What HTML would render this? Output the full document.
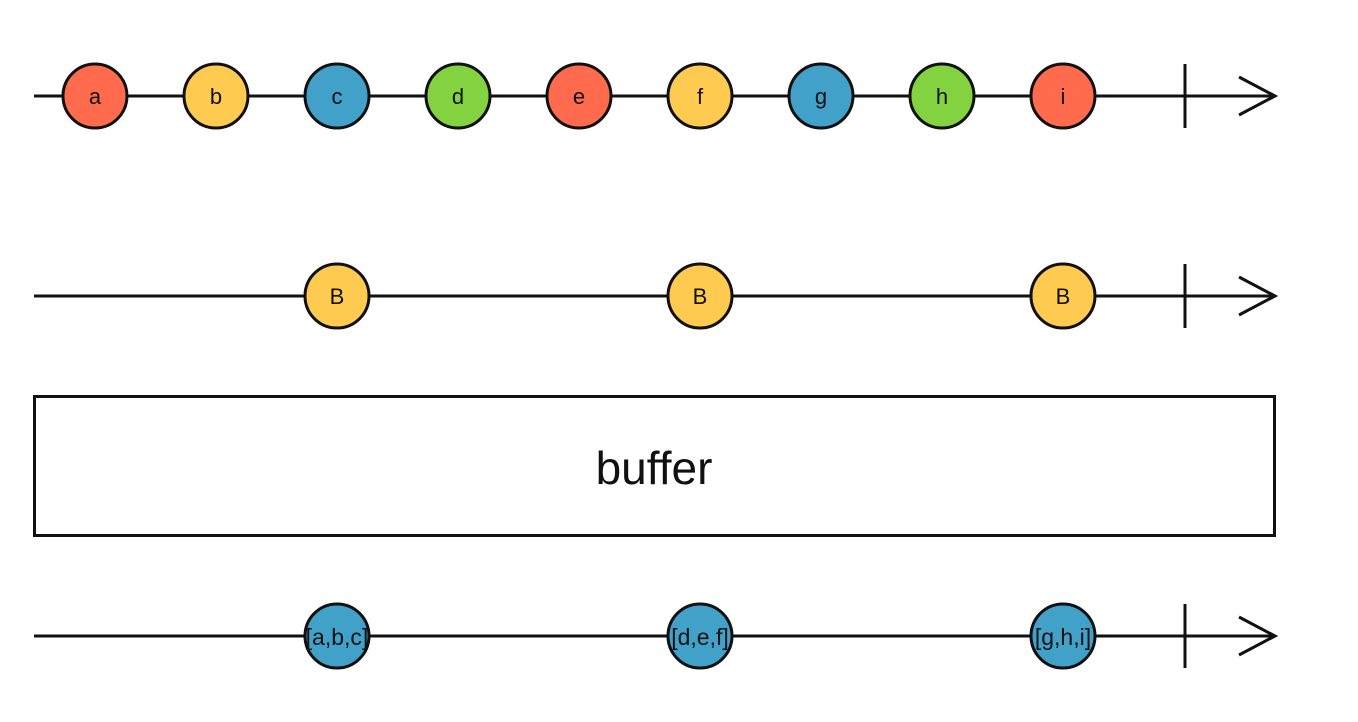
<!DOCTYPE html>
<html><head><meta charset="utf-8"><style>html,body{margin:0;padding:0;background:#fff}svg{display:block}</style></head>
<body>
<svg width="1358" height="722" viewBox="0 0 1358 722" xmlns="http://www.w3.org/2000/svg" font-family="Liberation Sans, sans-serif">
<g stroke="#111" stroke-width="3" fill="none">
<line x1="34" y1="96" x2="1275" y2="96"/>
<line x1="1185" y1="64" x2="1185" y2="128"/>
<polyline points="1239,77 1275,96 1239,115"/>
<line x1="34" y1="296" x2="1275" y2="296"/>
<line x1="1185" y1="264" x2="1185" y2="328"/>
<polyline points="1239,277 1275,296 1239,315"/>
<line x1="34" y1="636" x2="1275" y2="636"/>
<line x1="1185" y1="604" x2="1185" y2="668"/>
<polyline points="1239,617 1275,636 1239,655"/>
<rect x="34.5" y="396.5" width="1240" height="139"/>
</g>
<g stroke="#111" stroke-width="3">
<circle cx="95" cy="96" r="32" fill="#FF6B4C"/>
<circle cx="216" cy="96" r="32" fill="#FFCA50"/>
<circle cx="337" cy="96" r="32" fill="#42A1C9"/>
<circle cx="458" cy="96" r="32" fill="#83D23F"/>
<circle cx="579" cy="96" r="32" fill="#FF6B4C"/>
<circle cx="700" cy="96" r="32" fill="#FFCA50"/>
<circle cx="821" cy="96" r="32" fill="#42A1C9"/>
<circle cx="942" cy="96" r="32" fill="#83D23F"/>
<circle cx="1063" cy="96" r="32" fill="#FF6B4C"/>
<circle cx="337" cy="296" r="32" fill="#FFCA50"/>
<circle cx="700" cy="296" r="32" fill="#FFCA50"/>
<circle cx="1063" cy="296" r="32" fill="#FFCA50"/>
<circle cx="337" cy="636" r="32" fill="#42A1C9"/>
<circle cx="700" cy="636" r="32" fill="#42A1C9"/>
<circle cx="1063" cy="636" r="32" fill="#42A1C9"/>
</g>
<g fill="#111" font-size="22" text-anchor="middle">
<text x="95" y="104">a</text><text x="216" y="104">b</text><text x="337" y="104">c</text>
<text x="458" y="104">d</text><text x="579" y="104">e</text><text x="700" y="104">f</text>
<text x="821" y="104">g</text><text x="942" y="104">h</text><text x="1063" y="104">i</text>
<text x="337" y="304">B</text><text x="700" y="304">B</text><text x="1063" y="304">B</text>
<text x="337" y="645" font-size="23">[a,b,c]</text>
<text x="700" y="645" font-size="23">[d,e,f]</text>
<text x="1063" y="645" font-size="23">[g,h,i]</text>
<text x="654" y="484" font-size="46">buffer</text>
</g>
</svg>
</body></html>
